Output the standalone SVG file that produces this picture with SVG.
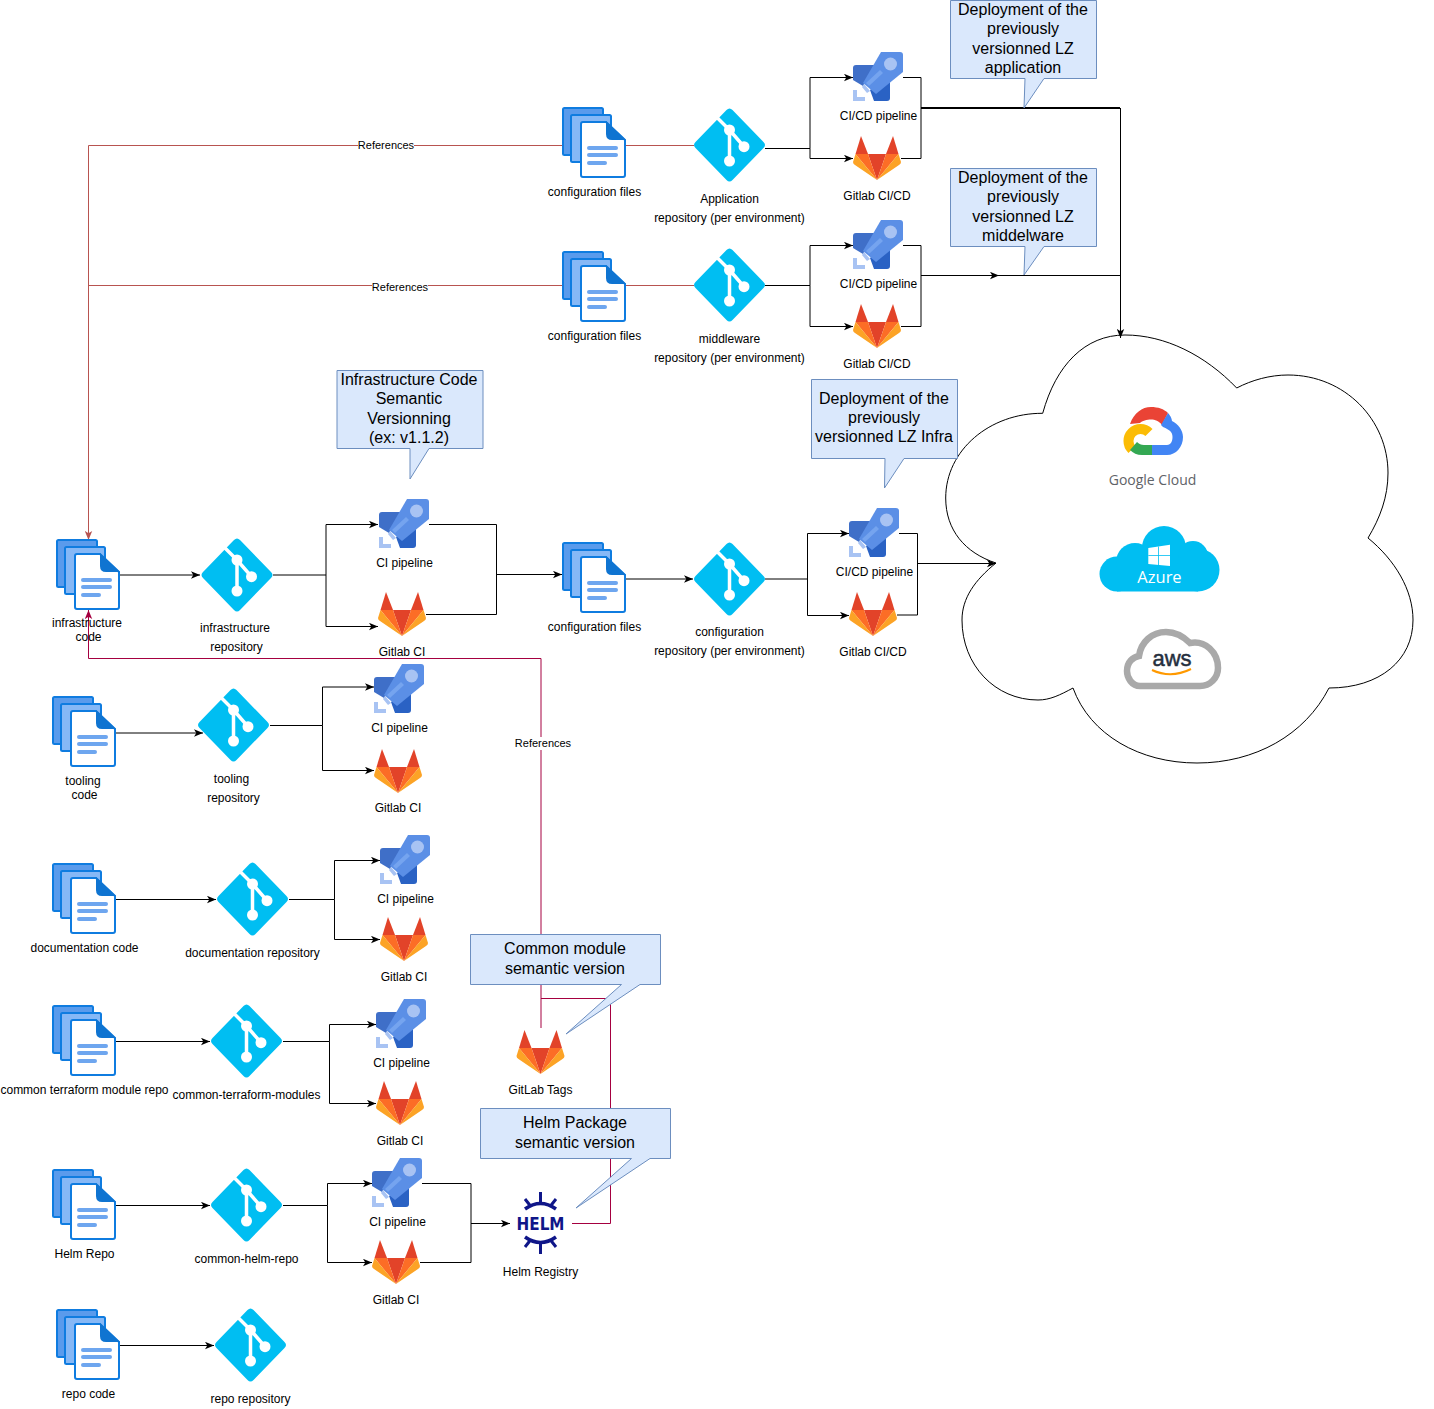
<svg xmlns="http://www.w3.org/2000/svg" xmlns:xlink="http://www.w3.org/1999/xlink" width="1434" height="1409" viewBox="0 0 1434 1409">
<style>
text{font-family:"Liberation Sans",Arial,sans-serif;text-anchor:middle;fill:#000}
.l{font-size:12px}
.c{font-size:16px}
.r{font-size:11px}
.k{fill:none;stroke:#000;stroke-width:1;marker-end:url(#ak)}
.kn{fill:none;stroke:#000;stroke-width:1}
.red{fill:none;stroke:#b85450;stroke-width:1}
.cr{fill:none;stroke:#a50040;stroke-width:1}
.box{fill:#dae8fc;stroke:#6c8ebf;stroke-width:1}
</style>
<defs>
<marker id="ak" markerUnits="userSpaceOnUse" markerWidth="10" markerHeight="8" refX="9" refY="4" orient="auto" viewBox="0 0 10 8"><path d="M0,0.3L9,4L0,7.7L2.3,4Z" fill="#000"/></marker>
<marker id="ar" markerUnits="userSpaceOnUse" markerWidth="10" markerHeight="8" refX="9" refY="4" orient="auto" viewBox="0 0 10 8"><path d="M0,0.3L9,4L0,7.7L2.3,4Z" fill="#b85450"/></marker>
<marker id="ac" markerUnits="userSpaceOnUse" markerWidth="10" markerHeight="8" refX="9" refY="4" orient="auto" viewBox="0 0 10 8"><path d="M0,0.3L9,4L0,7.7L2.3,4Z" fill="#a50040"/></marker>
<g id="files">
<rect x="1" y="0" width="40" height="47" rx="1.5" fill="#5a9bec" stroke="#0f7ce0" stroke-width="2"/>
<rect x="9" y="7" width="40" height="47" rx="1.5" fill="#86b8f6" stroke="#0f7ce0" stroke-width="2"/>
<path d="M21,14H44L63,32V67Q63,69 61,69H21Q19,69 19,67V16Q19,14 21,14Z" fill="#fff" stroke="#0f7ce0" stroke-width="2"/>
<path d="M44,13L64,32H50Q44,32 44,26Z" fill="#0f74d1"/>
<rect x="25" y="38" width="31" height="4" rx="2" fill="#6ea6ef"/>
<rect x="25" y="45" width="31" height="4" rx="2" fill="#6ea6ef"/>
<rect x="25" y="53" width="20" height="4" rx="2" fill="#6ea6ef"/>
</g>
<g id="git">
<path d="M-3,-35Q0,-38 3,-35L34,-3Q37,0 34,3L3,35Q0,38 -3,35L-34,3Q-37,0 -34,-3Z" fill="#00bef2"/>
<path d="M-12,-27L0,-15V16M0,-15L14.500,1.700" fill="none" stroke="#fff" stroke-width="3.500"/>
<circle cx="0" cy="-15" r="5.500" fill="#fff"/>
<circle cx="0" cy="16" r="5.500" fill="#fff"/>
<circle cx="14.500" cy="1.700" r="5.500" fill="#fff"/>
</g>
<g id="rocket">
<path d="M24,13H3Q0,13 0,16V28L10,34Z" fill="#3f6fc8"/>
<path d="M37,24V46Q37,49 34,49H21L17,38Z" fill="#2a62c4"/>
<path d="M28,0H47Q50,0 50,3V20L23,42L10,31Z" fill="#5b8fe6"/>
<path d="M13,31L27,18L30,21L16,34Z" fill="#75a4ef"/>
<circle cx="37.500" cy="12" r="6.500" fill="#a8c3f3"/>
<path d="M11,32L17,39L14,41L9,35Z" fill="#a8c3f3"/>
<path d="M0,38H4V45H12V49H0Z" fill="#a8c3f3"/>
</g>
<g id="fox">
<path d="M8,0L15,18H2.500Z" fill="#e24329"/>
<path d="M40,0L33,18H45.500Z" fill="#e24329"/>
<path d="M15,18H33L24,44Z" fill="#e24329"/>
<path d="M2.500,18H15L24,44Z" fill="#fc6d26"/>
<path d="M45.500,18H33L24,44Z" fill="#fc6d26"/>
<path d="M2.500,18L0,26Q0,28 2,29L24,44Z" fill="#fca326"/>
<path d="M45.500,18L48,26Q48,28 46,29L24,44Z" fill="#fca326"/>
</g>
<g id="helmarc" fill="none" stroke="#0f1689" stroke-width="3.500">
<path d="M525,1209Q540.500,1198 556,1209"/>
<path d="M540.500,1192V1204M525,1199L530.500,1206M556,1199L550.500,1206" stroke-width="3"/>
</g>
</defs>

<g id="cloud">
<path d="M1042.700,413.300C1056,365 1085,335 1125,335C1165,335 1205,355 1236.700,388C1252,380 1270,375 1288,375C1345,375 1388,420 1388,473C1388,497 1380,518 1368,538C1395,560 1413,590 1413,620C1413,660 1380,688 1329,688C1305,735 1255,763 1197,763C1140,763 1090,735 1073,688C1060,695 1050,700 1038,700C995,700 962,665 962,620C962,598 975,580 996,563C965,553 945.700,530 945.700,498C945.700,450 990,413 1042.700,413.300Z" fill="#fff" stroke="#000" stroke-width="1"/>
<g id="google-cloud">
<path d="M1130,424C1134,413 1142,407 1151,407C1158,407 1164,409 1168,413L1162,425C1159,421 1155,419.500 1151,419.500C1147,419.500 1142,421 1140,423Z" fill="#ea4335"/>
<path d="M1168,413C1171,416 1172,420 1172,421C1178,424 1183,430 1183,437C1183,447 1176,455 1167,455H1152V445H1167C1171,445 1172.500,441 1172.500,437C1172.500,432 1170,430 1163,427L1161,425Z" fill="#4285f4"/>
<path d="M1149,432.500A12,12 0 1 0 1132,449.500" fill="none" stroke="#fbbc05" stroke-width="10"/>
<path d="M1152,445V455H1142C1137,455 1133,453 1130,450L1137,442C1139,444 1141,445 1144,445Z" fill="#34a853"/>
<text x="1152.500" y="485" style="font-family:'Open Sans',sans-serif;font-size:14px;fill:#5f6368">Google Cloud</text>
</g>
<g id="azure">
<g fill="#00bef2">
<circle cx="1117" cy="574" r="17.500"/><circle cx="1135" cy="562" r="19"/><circle cx="1164" cy="548" r="22"/><circle cx="1193" cy="556" r="15"/><circle cx="1198" cy="570" r="21.500"/><rect x="1117" y="565" width="81" height="26.500"/>
</g>
<path d="M1148.300,548L1170,544.700V566L1148.300,564Z" fill="#fff"/>
<path d="M1158.500,546.500V565M1148.300,555.500H1170" stroke="#00bef2" stroke-width="0.800" fill="none"/>
<text x="1159.500" y="582.500" style="font-family:'Open Sans',sans-serif;font-size:16.500px;fill:#fff">Azure</text>
</g>
<g id="aws">
<path d="M1140,686C1132,686 1127,678 1127,671C1127,662 1133,657 1139,656C1141,642 1152,632 1166,632C1176,632 1184,637 1190,643C1205,640 1218,652 1218,668C1218,678 1210,686 1200,686Z" fill="#fff" stroke="#a9a9a9" stroke-width="6.500"/>
<text x="1172" y="665.500" style="font-size:22px;fill:#252f3e;stroke:#252f3e;stroke-width:0.500">aws</text>
<path d="M1152,670Q1171,679 1191,669" fill="none" stroke="#f90" stroke-width="2"/>
</g>
</g>

<g id="connectors">
<path class="red" d="M694,145.500H88.500V540" marker-end="url(#ar)"/>
<path class="red" d="M694,285.500H88.500"/>
<path class="cr" d="M541,1028V658.500H88.500V610" marker-end="url(#ac)"/>
<path class="cr" d="M541,998.500H610.500V1223.500H572"/>
<path class="k" d="M765,148.500H810V77.500H853"/>
<path class="k" d="M810,148.500V158.500H853"/>
<path class="kn" d="M903,77.500H921V158.500H901"/>
<path class="kn" d="M921,108H1120" style="stroke-width:2"/>
<path class="k" d="M1120.500,108V338"/>
<path class="k" d="M765,285.500H810V245.500H853"/>
<path class="k" d="M810,285.500V326.500H853"/>
<path class="kn" d="M903,245.500H921V326.500H901"/>
<path class="k" d="M921,275.500H999"/>
<path class="kn" d="M999,275.500H1120"/>
<path class="k" d="M120,575H200"/>
<path class="k" d="M273,575H326V524.500H378"/>
<path class="k" d="M326,575V626.500H378"/>
<path class="kn" d="M429,524.500H496.500V614.500H426"/>
<path class="k" d="M496.500,574.500H562"/>
<path class="k" d="M626,579H693"/>
<path class="k" d="M765,579H807.500V533.500H849"/>
<path class="k" d="M807.500,579V615.500H849"/>
<path class="kn" d="M899,533.500H917.500V615H897"/>
<path class="k" d="M917.500,563.500H996"/>
<path class="k" d="M116,733H203"/>
<path class="k" d="M270,725.500H322.500V687H374"/>
<path class="k" d="M322.500,725.500V770.500H374"/>
<path class="k" d="M116,899.500H216"/>
<path class="k" d="M289,899.500H334.500V860.500H380"/>
<path class="k" d="M334.500,899.500V939.500H380"/>
<path class="k" d="M116,1041.500H210"/>
<path class="k" d="M283,1041.500H329.500V1024.500H376"/>
<path class="k" d="M329.500,1041.500V1103.500H376"/>
<path class="k" d="M116,1205.500H210"/>
<path class="k" d="M283,1205.500H327.500V1183.500H372"/>
<path class="k" d="M327.500,1205.500V1262.500H372"/>
<path class="kn" d="M422,1183.500H471V1262.500H420"/>
<path class="k" d="M471,1223.500H510"/>
<path class="k" d="M120,1345.500H214"/>
<rect x="358" y="139" width="56" height="13" fill="#fff"/>
<text class="r" x="386" y="149">References</text>
<rect x="372" y="280" width="56" height="13" fill="#fff"/>
<text class="r" x="400" y="291">References</text>
<rect x="514" y="737" width="57" height="13" fill="#fff"/>
<text class="r" x="543" y="747">References</text>
</g>

<g id="files-app"><use href="#files" x="562" y="108"/><text class="l" x="594.500" y="196">configuration files</text></g>
<g id="git-app"><use href="#git" x="729.500" y="145"/><text class="l" x="729.500" y="203">Application</text><text class="l" x="729.500" y="222">repository (per environment)</text></g>
<g id="pipe-app"><use href="#rocket" x="853" y="52"/><text class="l" x="878.500" y="120">CI/CD pipeline</text></g>
<g id="fox-app"><use href="#fox" x="853" y="136"/><text class="l" x="877" y="200">Gitlab CI/CD</text></g>

<g id="files-mw"><use href="#files" x="562" y="252"/><text class="l" x="594.500" y="340">configuration files</text></g>
<g id="git-mw"><use href="#git" x="729.500" y="285"/><text class="l" x="729.500" y="343">middleware</text><text class="l" x="729.500" y="362">repository (per environment)</text></g>
<g id="pipe-mw"><use href="#rocket" x="853" y="220"/><text class="l" x="878.500" y="288">CI/CD pipeline</text></g>
<g id="fox-mw"><use href="#fox" x="853" y="304"/><text class="l" x="877" y="368">Gitlab CI/CD</text></g>

<g id="files-infra"><use href="#files" x="56" y="540"/><text class="l" x="87" y="627">infrastructure</text><text class="l" x="88.500" y="641">code</text></g>
<g id="git-infra"><use href="#git" x="237" y="575"/><text class="l" x="235" y="632">infrastructure</text><text class="l" x="236.500" y="651">repository</text></g>
<g id="pipe-infra"><use href="#rocket" x="379" y="499"/><text class="l" x="404.500" y="567">CI pipeline</text></g>
<g id="fox-infra"><use href="#fox" x="378" y="592"/><text class="l" x="402" y="656">Gitlab CI</text></g>

<g id="files-cfg"><use href="#files" x="562" y="543"/><text class="l" x="594.500" y="631">configuration files</text></g>
<g id="git-cfg"><use href="#git" x="729.500" y="579"/><text class="l" x="729.500" y="636">configuration</text><text class="l" x="729.500" y="655">repository (per environment)</text></g>
<g id="pipe-cfg"><use href="#rocket" x="849" y="508"/><text class="l" x="874.500" y="576">CI/CD pipeline</text></g>
<g id="fox-cfg"><use href="#fox" x="849" y="592"/><text class="l" x="873" y="656">Gitlab CI/CD</text></g>

<g id="files-tool"><use href="#files" x="52" y="697"/><text class="l" x="83" y="785">tooling</text><text class="l" x="84.500" y="799">code</text></g>
<g id="git-tool"><use href="#git" x="233.500" y="725"/><text class="l" x="231.500" y="783">tooling</text><text class="l" x="233.500" y="802">repository</text></g>
<g id="pipe-tool"><use href="#rocket" x="374" y="664"/><text class="l" x="399.500" y="732">CI pipeline</text></g>
<g id="fox-tool"><use href="#fox" x="374" y="749"/><text class="l" x="398" y="812">Gitlab CI</text></g>

<g id="files-doc"><use href="#files" x="52" y="864"/><text class="l" x="84.500" y="952">documentation code</text></g>
<g id="git-doc"><use href="#git" x="252.500" y="899"/><text class="l" x="252.500" y="957">documentation repository</text></g>
<g id="pipe-doc"><use href="#rocket" x="380" y="835"/><text class="l" x="405.500" y="903">CI pipeline</text></g>
<g id="fox-doc"><use href="#fox" x="380" y="917"/><text class="l" x="404" y="981">Gitlab CI</text></g>

<g id="files-common"><use href="#files" x="52" y="1006"/><text class="l" x="84.500" y="1094">common terraform module repo</text></g>
<g id="git-common"><use href="#git" x="246.500" y="1041"/><text class="l" x="246.500" y="1099">common-terraform-modules</text></g>
<g id="pipe-common"><use href="#rocket" x="376" y="999"/><text class="l" x="401.500" y="1067">CI pipeline</text></g>
<g id="fox-common"><use href="#fox" x="376" y="1081"/><text class="l" x="400" y="1145">Gitlab CI</text></g>

<g id="files-helm"><use href="#files" x="52" y="1170"/><text class="l" x="84.500" y="1258">Helm Repo</text></g>
<g id="git-helm"><use href="#git" x="246.500" y="1205"/><text class="l" x="246.500" y="1263">common-helm-repo</text></g>
<g id="pipe-helm"><use href="#rocket" x="372" y="1158"/><text class="l" x="397.500" y="1226">CI pipeline</text></g>
<g id="fox-helm"><use href="#fox" x="372" y="1240"/><text class="l" x="396" y="1304">Gitlab CI</text></g>

<g id="files-repo"><use href="#files" x="56" y="1310"/><text class="l" x="88.500" y="1398">repo code</text></g>
<g id="git-repo"><use href="#git" x="250.500" y="1345"/><text class="l" x="250.500" y="1403">repo repository</text></g>

<g id="gitlab-tags"><use href="#fox" x="516.500" y="1030"/><text class="l" x="540.500" y="1094">GitLab Tags</text></g>
<g id="helm-registry">
<use href="#helmarc"/>
<use href="#helmarc" transform="matrix(1 0 0 -1 0 2446)"/>
<text x="540.500" y="1230" textLength="48" lengthAdjust="spacingAndGlyphs" style="font-family:'DejaVu Sans',sans-serif;font-size:18.500px;font-weight:bold;fill:#0f1689">HELM</text>
<text class="l" x="540.500" y="1276">Helm Registry</text>
</g>

<g id="callout-app"><path class="box" d="M950.500,0.500H1096.500V78.500H1044L1024,108L1025,78.500H950.500Z"/><text class="c" x="1023" y="15">Deployment of the</text><text class="c" x="1023" y="34">previously</text><text class="c" x="1023" y="54">versionned LZ</text><text class="c" x="1023" y="73">application</text></g>
<g id="callout-mw"><path class="box" d="M950.500,168.500H1096.500V246.500H1044L1024,275L1025,246.500H950.500Z"/><text class="c" x="1023" y="183">Deployment of the</text><text class="c" x="1023" y="202">previously</text><text class="c" x="1023" y="222">versionned LZ</text><text class="c" x="1023" y="241">middelware</text></g>
<g id="callout-lz"><path class="box" d="M811.500,379.500H957.500V458.500H904L884.500,488L885,458.500H811.500Z"/><text class="c" x="884" y="404">Deployment of the</text><text class="c" x="884" y="423">previously</text><text class="c" x="884" y="442">versionned LZ Infra</text></g>
<g id="callout-infra"><path class="box" d="M337,370.500H483V448.500H429L410,479L410,448.500H337Z"/><text class="c" x="409" y="385">Infrastructure Code</text><text class="c" x="409" y="404">Semantic</text><text class="c" x="409" y="424">Versionning</text><text class="c" x="409" y="443">(ex: v1.1.2)</text></g>
<g id="callout-common"><path class="box" d="M470.500,934.500H660.500V984.500H640L566,1034L621.500,984.500H470.500Z"/><text class="c" x="565" y="954">Common module</text><text class="c" x="565" y="974">semantic version</text></g>
<g id="callout-helm"><path class="box" d="M480.500,1108.500H670.500V1158.500H650L576,1208L631.500,1158.500H480.500Z"/><text class="c" x="575" y="1128">Helm Package</text><text class="c" x="575" y="1148">semantic version</text></g>
</svg>
